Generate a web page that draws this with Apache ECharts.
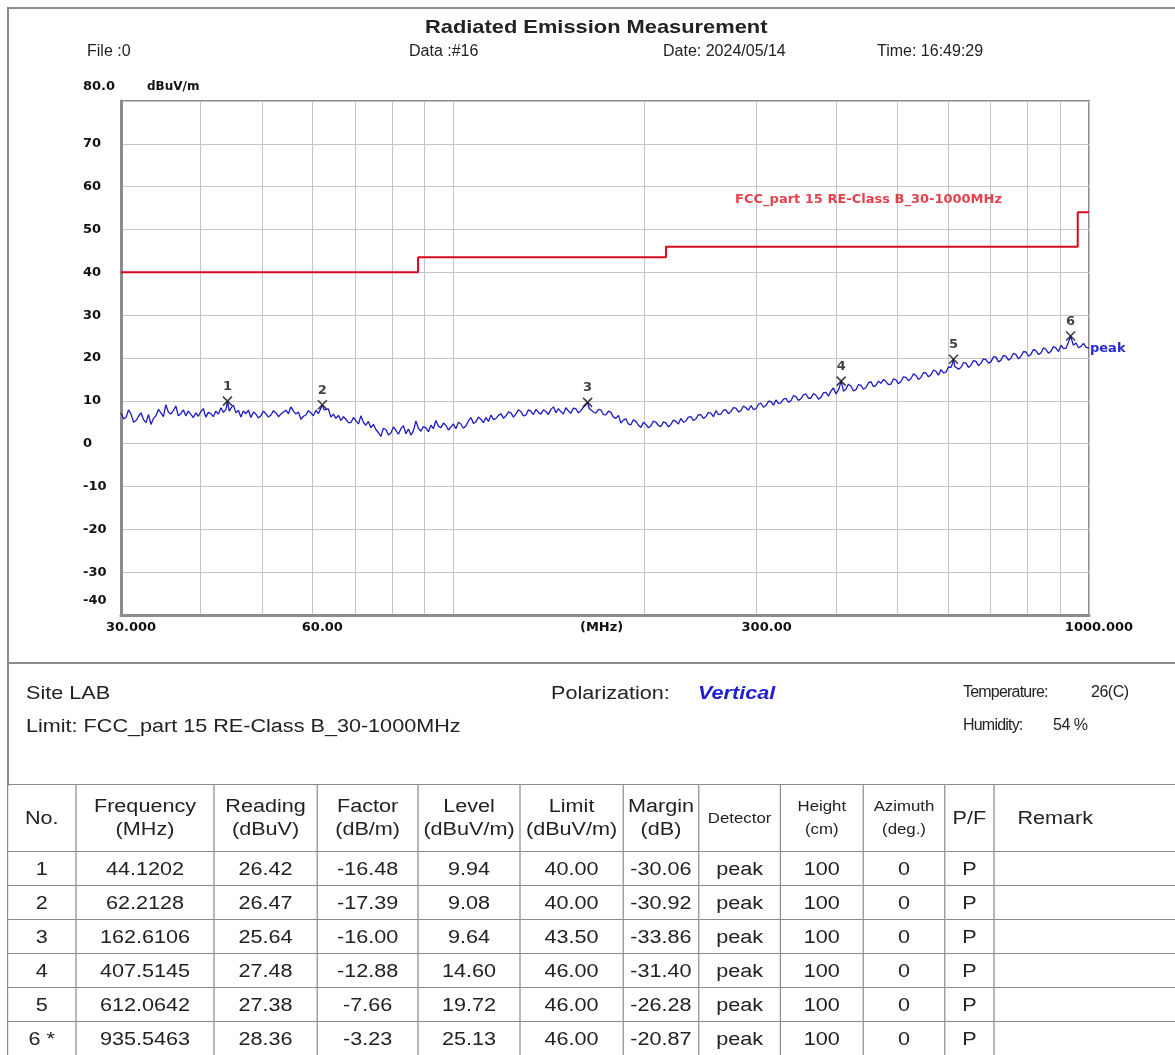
<!DOCTYPE html>
<html lang="en">
<head>
<meta charset="UTF-8">
<title>Radiated Emission Measurement</title>
<script src="https://cdn.jsdelivr.net/npm/echarts@6/dist/echarts.min.js"></script>
<style>
    body { margin: 0; width: 1175px; height: 1055px; overflow: hidden; background: #fff;
           font-family: Arial, "Liberation Sans", sans-serif; color: #222; position: relative; }
    #main { position: absolute; left: 0; top: 0; width: 1175px; height: 660px; }
    .box { position: absolute; left: 7px; top: 7px; width: 1180px; height: 777px;
           border-top: 2px solid #8c8c8c; border-left: 2px solid #8c8c8c; z-index: 2; }
    .sep { position: absolute; left: 8px; top: 662px; width: 1167px; height: 2px; background: #8c8c8c; z-index: 2; }
    .t { position: absolute; white-space: nowrap; line-height: 1; z-index: 3; }
    .sx { display: inline-block; transform: scaleX(1.2); transform-origin: 0 50%; }
    .tb { position: absolute; left: 7px; top: 784px; transform: scaleX(1.2); transform-origin: 0 0; z-index: 3; }
    table { border-collapse: collapse; table-layout: fixed; font-size: 18px; color: #222; }
    td { border: 1px solid #8a8a8a; text-align: center; padding: 0; height: 33px; line-height: 20px; }
    tr.hd td { height: 66px; line-height: 23px; }
    td.sm { font-size: 14px; line-height: 22px; }
</style>
</head>
<body>
<div class="box"></div>
<div class="sep"></div>
<div id="main"></div>

<div class="t" style="left:425px; top:17px; font-size:19px; font-weight:bold;"><span class="sx" style="transform:scaleX(1.15)">Radiated Emission Measurement</span></div>
<div class="t" style="left:87px; top:43px; font-size:16px;">File :0</div>
<div class="t" style="left:409px; top:43px; font-size:16px;">Data :#16</div>
<div class="t" style="left:663px; top:43px; font-size:16px;">Date: 2024/05/14</div>
<div class="t" style="left:877px; top:43px; font-size:16px;">Time: 16:49:29</div>

<div class="t" style="left:26px; top:684px; font-size:18px;"><span class="sx">Site LAB</span></div>
<div class="t" style="left:26px; top:717px; font-size:18px;"><span class="sx">Limit: FCC_part 15 RE-Class B_30-1000MHz</span></div>
<div class="t" style="left:551px; top:684px; font-size:18px;"><span class="sx">Polarization:</span></div>
<div class="t" style="left:698px; top:684px; font-size:18px; font-weight:bold; font-style:italic; color:#2020d0;"><span class="sx">Vertical</span></div>
<div class="t" style="left:963px; top:684px; font-size:16px; letter-spacing:-0.8px;">Temperature:</div>
<div class="t" style="left:1091px; top:684px; font-size:16px; letter-spacing:-0.5px;">26(C)</div>
<div class="t" style="left:963px; top:717px; font-size:16px; letter-spacing:-0.8px;">Humidity:</div>
<div class="t" style="left:1053px; top:717px; font-size:16px; letter-spacing:-0.5px;">54 %</div>

<div class="tb"><table id="tbl">
    <colgroup>
        <col style="width:57px"><col style="width:115px"><col style="width:86px"><col style="width:84px">
        <col style="width:85px"><col style="width:86px"><col style="width:63px"><col style="width:68px">
        <col style="width:69px"><col style="width:68px"><col style="width:41px"><col style="width:172px">
    </colgroup>
    <tr class="hd">
        <td>No.</td><td>Frequency<br>(MHz)</td><td>Reading<br>(dBuV)</td><td>Factor<br>(dB/m)</td>
        <td>Level<br>(dBuV/m)</td><td>Limit<br>(dBuV/m)</td><td>Margin<br>(dB)</td><td class="sm">Detector</td>
        <td class="sm">Height<br>(cm)</td><td class="sm">Azimuth<br>(deg.)</td><td>P/F</td>
        <td style="text-align:left; padding-left:19px;">Remark</td>
    </tr>
</table></div>

<script>
    // sweep trace [MHz, dBuV/m], marker peaks included
    var trace = [
        [30.0, 7.2], [30.27, 5.8], [30.55, 6.1], [30.83, 7.9], [31.11, 6.9], [31.40, 5.0], [31.68, 5.4], [31.97, 6.4],
        [32.26, 7.2], [32.55, 5.6], [32.84, 4.9], [33.14, 6.8], [33.44, 4.5], [33.74, 5.9], [34.05, 6.5], [34.36, 8.0],
        [34.67, 7.2], [34.98, 6.3], [35.30, 9.1], [35.61, 7.4], [35.93, 6.9], [36.26, 7.7], [36.59, 8.8], [36.92, 6.5],
        [37.26, 7.0], [37.60, 7.9], [37.94, 6.5], [38.28, 7.6], [38.63, 6.9], [38.98, 6.1], [39.34, 7.2], [39.70, 6.4],
        [40.06, 7.5], [40.42, 8.2], [40.79, 6.2], [41.16, 7.3], [41.53, 7.0], [41.91, 6.3], [42.29, 7.6], [42.69, 6.9],
        [43.09, 8.4], [43.48, 7.3], [43.87, 8.0], [44.00, 8.9], [44.12, 9.94], [44.40, 7.6], [44.67, 8.3], [45.08, 9.0],
        [45.49, 7.2], [45.90, 7.8], [46.32, 6.2], [46.74, 7.6], [47.16, 7.0], [47.60, 7.8], [48.03, 6.1], [48.47, 7.4],
        [48.90, 6.9], [49.35, 6.0], [49.80, 6.5], [50.25, 7.6], [50.71, 7.0], [51.17, 6.2], [51.64, 6.7], [52.11, 7.7],
        [52.58, 7.2], [53.06, 6.3], [53.54, 6.9], [54.03, 7.4], [54.52, 7.8], [55.02, 7.0], [55.52, 8.6], [56.02, 7.6],
        [56.53, 6.9], [57.05, 7.4], [57.57, 5.7], [58.10, 6.4], [58.62, 6.7], [59.15, 7.7], [59.69, 7.2], [60.23, 6.5],
        [60.78, 7.8], [61.33, 7.0], [61.88, 8.3], [62.05, 8.0], [62.21, 9.08], [62.60, 7.9], [63.02, 7.5], [63.60, 8.1],
        [64.17, 6.2], [64.75, 6.9], [65.34, 5.9], [65.94, 6.6], [66.54, 5.4], [67.15, 6.3], [67.75, 5.7], [68.37, 4.9],
        [68.99, 4.9], [69.62, 6.1], [70.25, 5.4], [70.90, 4.6], [71.54, 6.5], [72.19, 5.0], [72.84, 4.3], [73.50, 5.2],
        [74.17, 3.7], [74.85, 4.5], [75.53, 3.3], [76.22, 2.6], [76.91, 1.7], [77.60, 3.6], [78.32, 3.3], [79.03, 2.0],
        [79.75, 2.5], [80.48, 3.9], [81.21, 3.1], [81.95, 2.2], [82.69, 3.5], [83.45, 4.2], [84.21, 2.3], [84.98, 3.4],
        [85.75, 2.0], [86.53, 3.0], [87.31, 5.3], [88.10, 3.6], [88.90, 2.9], [89.70, 4.0], [90.53, 3.7], [91.36, 2.8],
        [92.19, 4.3], [93.03, 3.5], [93.87, 5.4], [94.73, 4.1], [95.59, 3.7], [96.46, 4.8], [97.33, 4.3], [98.22, 3.2],
        [99.11, 3.9], [100.0, 4.6], [100.9, 3.5], [101.85, 5.0], [102.8, 4.6], [103.7, 3.6], [104.6, 4.1], [105.6, 5.3],
        [106.6, 6.1], [107.55, 4.7], [108.5, 5.1], [109.5, 6.2], [110.5, 5.7], [111.5, 4.9], [112.5, 6.1], [113.55, 5.2],
        [114.6, 6.7], [115.65, 5.6], [116.7, 5.9], [117.75, 6.6], [118.8, 7.0], [119.9, 5.9], [121.0, 6.5], [122.1, 7.4],
        [123.2, 7.2], [124.3, 6.2], [125.4, 6.9], [126.55, 7.9], [127.7, 7.5], [128.9, 6.5], [130.1, 6.7], [131.25, 7.9],
        [132.4, 7.6], [133.65, 6.8], [134.9, 8.0], [136.1, 7.3], [137.3, 6.9], [138.55, 7.9], [139.8, 7.5], [141.1, 6.8],
        [142.4, 8.0], [143.7, 8.6], [145.0, 7.2], [146.3, 8.2], [147.6, 7.5], [148.95, 6.9], [150.3, 8.4], [151.7, 7.6],
        [153.1, 7.1], [154.5, 8.3], [155.9, 8.1], [157.3, 7.2], [158.7, 7.7], [160.15, 8.5], [161.6, 9.1], [162.1, 8.7],
        [162.61, 9.64], [163.6, 8.2], [164.6, 8.4], [166.1, 7.4], [167.6, 7.1], [169.1, 8.0], [170.6, 7.9], [172.2, 6.8],
        [173.8, 6.7], [175.35, 7.6], [176.9, 7.3], [178.55, 6.2], [180.2, 5.9], [181.85, 6.6], [183.5, 4.8], [185.15, 5.5],
        [186.8, 5.8], [188.5, 4.6], [190.2, 4.4], [191.95, 5.6], [193.7, 5.2], [195.5, 4.3], [197.3, 3.8], [199.1, 5.0],
        [200.9, 4.5], [202.75, 3.7], [204.6, 4.2], [206.45, 5.3], [208.3, 5.0], [210.2, 4.2], [212.1, 4.0], [214.05, 5.1],
        [216.0, 4.8], [217.95, 3.9], [219.9, 4.5], [221.9, 5.5], [223.9, 5.2], [225.95, 4.6], [228.0, 5.9], [230.1, 5.0],
        [232.2, 5.3], [234.3, 6.2], [236.4, 6.3], [238.6, 5.4], [240.8, 5.8], [243.0, 6.8], [245.2, 6.7], [247.4, 5.9],
        [249.6, 6.3], [251.9, 7.3], [254.2, 7.1], [256.55, 6.3], [258.9, 7.7], [261.25, 6.8], [263.6, 6.9], [266.0, 7.8],
        [268.4, 7.9], [270.85, 7.0], [273.3, 7.5], [275.8, 8.4], [278.3, 8.3], [280.85, 7.4], [283.4, 7.7], [286.0, 8.8],
        [288.6, 8.4], [291.25, 7.8], [293.9, 8.9], [296.55, 8.0], [299.2, 8.1], [301.95, 9.2], [304.7, 9.5], [307.5, 8.5],
        [310.3, 8.9], [313.15, 9.9], [316.0, 9.8], [318.85, 9.0], [321.7, 10.2], [324.65, 9.4], [327.6, 9.5], [330.6, 10.4],
        [333.6, 10.6], [336.65, 9.7], [339.7, 10.0], [342.8, 11.2], [345.9, 11.0], [349.05, 10.1], [352.2, 10.5], [355.45, 11.4],
        [358.7, 11.6], [361.95, 10.6], [365.2, 10.6], [368.55, 11.7], [371.9, 11.3], [375.3, 10.4], [378.7, 10.8], [382.15, 11.9],
        [385.6, 12.0], [389.15, 11.1], [392.7, 12.3], [396.3, 13.0], [399.9, 11.6], [403.7, 12.6], [407.51, 14.6], [411.0, 12.2],
        [414.6, 12.8], [418.4, 13.9], [422.2, 13.4], [426.05, 12.3], [429.9, 12.6], [433.85, 13.8], [437.8, 13.6], [441.8, 12.7],
        [445.8, 13.1], [449.85, 14.2], [453.9, 14.5], [458.05, 13.3], [462.2, 13.6], [466.45, 14.6], [470.7, 14.1], [475.0, 15.0],
        [479.3, 14.5], [483.65, 13.8], [488.0, 13.9], [492.45, 15.1], [496.9, 14.9], [501.45, 14.0], [506.0, 14.5], [510.65, 15.6],
        [515.3, 15.5], [520.0, 14.7], [524.7, 15.2], [529.5, 16.3], [534.3, 15.9], [539.2, 15.0], [544.1, 15.5], [549.05, 16.6],
        [554.0, 16.5], [559.1, 15.6], [564.2, 16.1], [569.35, 17.2], [574.5, 16.9], [579.75, 16.0], [585.0, 17.3], [590.3, 16.5],
        [595.6, 16.7], [601.05, 17.9], [606.5, 17.8], [609.3, 18.6], [612.06, 19.72], [614.8, 18.0], [617.6, 18.3], [623.25, 17.4],
        [628.9, 17.8], [634.65, 18.9], [640.4, 18.8], [646.25, 17.8], [652.1, 18.3], [658.05, 19.4], [664.0, 19.2], [670.1, 18.2],
        [676.2, 18.8], [682.35, 19.8], [688.5, 19.6], [694.8, 18.8], [701.1, 19.1], [707.5, 20.3], [713.9, 20.2], [720.45, 19.1],
        [727.0, 19.5], [733.65, 20.6], [740.3, 20.4], [747.05, 19.5], [753.8, 20.0], [760.7, 21.1], [767.6, 20.8], [774.6, 19.8],
        [781.6, 20.4], [788.75, 21.5], [795.9, 21.4], [803.2, 20.4], [810.5, 20.9], [817.9, 22.0], [825.3, 21.7], [832.85, 20.8],
        [840.4, 21.2], [848.05, 22.4], [855.7, 22.0], [863.55, 21.1], [871.4, 21.6], [879.35, 22.7], [887.3, 22.3], [895.45, 21.5],
        [903.6, 23.0], [911.85, 22.2], [920.1, 22.3], [927.8, 23.6], [935.55, 25.13], [944.8, 23.0], [954.0, 23.5], [962.7, 22.4],
        [971.4, 22.7], [980.3, 23.4], [989.2, 22.5], [994.6, 22.9], [1000, 22.3]
    ];

    // FCC part 15 class B limit (step line)
    var limitFreq = [30, 88, 88, 216, 216, 960, 960, 1000];
    var limitLevel = [40, 40, 43.5, 43.5, 46, 46, 54, 54];
    var limitName = 'FCC_part 15 RE-Class B_30-1000MHz';

    // marker table
    var markerNo = ['1', '2', '3', '4', '5', '6 *'];
    var markerFreq = [44.1202, 62.2128, 162.6106, 407.5145, 612.0642, 935.5463];
    var markerReading = ['26.42', '26.47', '25.64', '27.48', '27.38', '28.36'];
    var markerFactor = ['-16.48', '-17.39', '-16.00', '-12.88', '-7.66', '-3.23'];
    var markerLevel = [9.94, 9.08, 9.64, 14.60, 19.72, 25.13];
    var markerLimit = ['40.00', '40.00', '43.50', '46.00', '46.00', '46.00'];
    var markerMargin = ['-30.06', '-30.92', '-33.86', '-31.40', '-26.28', '-20.87'];

    // axes
    var gridFreqs = [30, 40, 50, 60, 70, 80, 90, 100, 200, 300, 400, 500, 600, 700, 800, 900, 1000];
    var xLabelFreqs = [30, 60, 165, 300, 1000];
    var xLabelText = ['30.000', '60.00', '(MHz)', '300.00', '1000.000'];
    var yTickValues = [80, 70, 60, 50, 40, 30, 20, 10, 0, -10, -20, -30, -40];
    var yTickText = ['80.0', '70', '60', '50', '40', '30', '20', '10', '0', '-10', '-20', '-30', '-40'];

    function zip(a, b) {
        var out = [];
        for (var i = 0; i < a.length; i++) out.push([a[i], b[i]]);
        return out;
    }

    // table rows
    var tbl = document.getElementById('tbl');
    for (var i = 0; i < markerNo.length; i++) {
        var tr = document.createElement('tr');
        var cells = [markerNo[i], markerFreq[i].toFixed(4), markerReading[i], markerFactor[i],
            markerLevel[i].toFixed(2), markerLimit[i], markerMargin[i], 'peak', '100', '0', 'P', ''];
        for (var j = 0; j < cells.length; j++) {
            var td = document.createElement('td');
            td.textContent = cells[j];
            tr.appendChild(td);
        }
        tbl.appendChild(tr);
    }

    var font = 'DejaVu Sans';
    var myChart = echarts.init(document.getElementById('main'));

    var option = {
        animation: false,
        backgroundColor: 'transparent',
        grid: {
            left: 121, top: 101, width: 968, height: 514,
            show: true, borderColor: '#8c8c8c', borderWidth: 2
        },
        xAxis: {
            type: 'log',
            logBase: 10,
            min: 30,
            max: 1000,
            axisLine: {show: true, onZero: false, lineStyle: {color: '#8c8c8c', width: 3}},
            axisTick: {show: false, customValues: gridFreqs},
            splitLine: {show: true, lineStyle: {color: '#c4c4c4', width: 1}},
            axisLabel: {
                customValues: xLabelFreqs,
                margin: 6,
                padding: [0, 0, 0, 20],
                color: '#111',
                fontFamily: font,
                fontWeight: 'bold',
                fontSize: 13,
                formatter: function (v) {
                    for (var i = 0; i < xLabelFreqs.length; i++) {
                        if (Math.abs(xLabelFreqs[i] - v) < 0.01 * v) return xLabelText[i];
                    }
                    return '';
                }
            }
        },
        yAxis: {
            type: 'value',
            min: -40,
            max: 80,
            interval: 10,
            name: 'dBuV/m',
            nameLocation: 'end',
            nameGap: 8,
            nameTextStyle: {align: 'left', padding: [0, 0, 0, 26], color: '#111',
                fontFamily: font, fontWeight: 'bold', fontSize: 12},
            axisLine: {show: true, lineStyle: {color: '#8c8c8c', width: 3}},
            axisTick: {show: false},
            splitLine: {show: true, lineStyle: {color: '#c4c4c4', width: 1}},
            axisLabel: {
                align: 'left',
                margin: 38,
                color: '#111',
                fontFamily: font,
                fontWeight: 'bold',
                fontSize: 13,
                formatter: function (v) {
                    var txt = yTickText[yTickValues.indexOf(v)];
                    if (v === 80 || v === -40) return '{u|' + txt + '}';
                    return txt;
                },
                rich: {
                    u: {padding: [0, 0, 28, 0], color: '#111', fontFamily: font, fontWeight: 'bold', fontSize: 13}
                }
            }
        },
        series: [{
            name: 'limit',
            type: 'line',
            symbol: 'none',
            z: 3,
            lineStyle: {color: '#d40a1c', width: 2},
            data: zip(limitFreq, limitLevel)
        }, {
            name: 'peak',
            type: 'line',
            symbol: 'none',
            z: 4,
            lineStyle: {color: '#1c1cc0', width: 1.3},
            endLabel: {
                show: true, formatter: 'peak', distance: 1, color: '#2a2ad6',
                fontFamily: font, fontWeight: 'bold', fontSize: 13
            },
            data: trace
        }, {
            name: 'markers',
            type: 'scatter',
            z: 5,
            symbol: 'path://M0,0L10,10M10,0L0,10',
            symbolSize: 9,
            itemStyle: {color: 'none', borderColor: '#111', borderWidth: 1.6},
            label: {
                show: true, position: 'top', distance: 1, color: '#111',
                fontFamily: font, fontWeight: 'bold', fontSize: 13,
                formatter: function (p) { return markerNo[p.dataIndex].charAt(0); }
            },
            data: zip(markerFreq, markerLevel)
        }, {
            name: 'limit label',
            type: 'scatter',
            z: 5,
            symbolSize: 1,
            itemStyle: {color: 'transparent'},
            label: {
                show: true, position: 'right', distance: 0, color: '#e0101e',
                fontFamily: font, fontWeight: 'bold', fontSize: 13,
                formatter: limitName
            },
            data: [[277, 57]]
        }]
    };

    myChart.setOption(option);
</script>
</body>
</html>
